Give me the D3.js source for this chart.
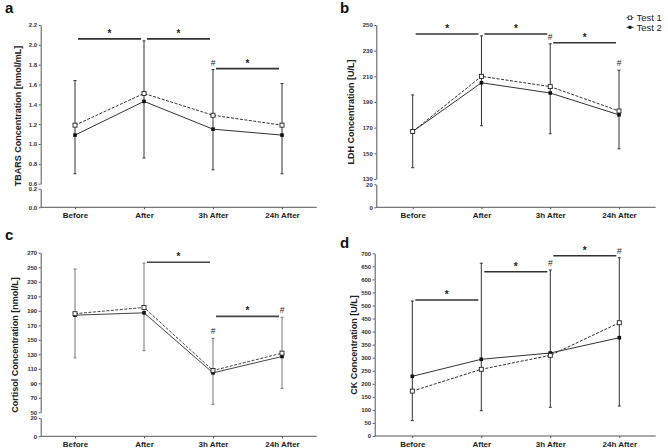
<!DOCTYPE html>
<html>
<head>
<meta charset="utf-8">
<script src="https://cdn.jsdelivr.net/npm/d3@7"></script>
<style>
  body { margin: 0; background: #fff; }
  svg { display: block; font-family: "Liberation Sans", Arial, sans-serif; }
</style>
</head>
<body>
<svg id="chart" width="668" height="448"></svg>
<script>
// ---------- DATA ----------
const categories = ["Before", "After", "3h After", "24h After"];
const seriesNames = ["Test 1", "Test 2"];

// a: TBARS
const tbarsTest1 = [1.19, 1.51, 1.29, 1.19];
const tbarsTest2 = [1.09, 1.43, 1.15, 1.09];
const tbarsErrTop = [1.64, 2.04, 1.75, 1.61];
const tbarsErrBottom = [0.70, 0.86, 0.74, 0.70];
const tbarsUpperTicks = [0.6, 0.8, 1.0, 1.2, 1.4, 1.6, 1.8, 2.0, 2.2];
const tbarsLowerTicks = [0.0, 0.2];
const tbarsSig = [[0, 1, 2.06], [1, 2, 2.06], [2, 3, 1.76]];
const tbarsHash = [2];

// b: LDH
const ldhTest1 = [167, 210, 202, 183];
const ldhTest2 = [167, 205, 197, 180];
const ldhErrTop = [195.5, 241.5, 235.3, 214.8];
const ldhErrBottom = [138.8, 171.5, 165.3, 153.5];
const ldhUpperTicks = [130, 150, 170, 190, 210, 230, 250];
const ldhLowerTicks = [0, 20];
const ldhSig = [[0, 1, 243], [1, 2, 243], [2, 3, 236.2]];
const ldhHash = [2, 3];

// c: Cortisol
const cortTest1 = [186, 194.6, 107.6, 131.6];
const cortTest2 = [184, 187.2, 104.4, 127];
const cortErrTop = [247.6, 255.7, 152, 181];
const cortErrBottom = [125, 135, 61, 83];
const cortUpperTicks = [50, 70, 90, 110, 130, 150, 170, 190, 210, 230, 250, 270];
const cortLowerTicks = [0, 20];
const cortSig = [[1, 2, 257], [2, 3, 182.3]];
const cortHash = [2, 3];

// d: CK
const ckTest1 = [172, 255.5, 309, 434];
const ckTest2 = [228.7, 294, 318, 376.6];
const ckErrTop = [517, 662, 636, 683];
const ckErrBottom = [59, 97, 110, 115];
const ckTicks = [0, 50, 100, 150, 200, 250, 300, 350, 400, 450, 500, 550, 600, 650, 700];
const ckSig = [[0, 1, 521], [1, 2, 629.5], [2, 3, 690.8]];
const ckHash = [2, 3];

// ---------- DRAW ----------
const svg = d3.select("#chart");
const FONT = "'Liberation Sans', Arial, sans-serif";

function drawPanel(p) {
  const g = svg.append("g");
  const x = d3.scalePoint().domain(categories).range(p.xRange);

  // piecewise y scale (broken axis)
  let y, upper, lower = null;
  upper = d3.scaleLinear().domain(p.upperDomain).range(p.upperRange);
  if (p.lowerDomain) {
    lower = d3.scaleLinear().domain(p.lowerDomain).range(p.lowerRange);
    y = d3.scaleLinear()
      .domain([p.lowerDomain[0], p.lowerDomain[1], p.upperDomain[0], p.upperDomain[1]])
      .range([p.lowerRange[0], p.lowerRange[1], p.upperRange[0], p.upperRange[1]]);
  } else {
    y = upper;
  }

  const fmt = p.fmt ? d3.format(p.fmt) : d3.format("d");
  function styleAxis(sel) {
    sel.select(".domain").attr("stroke", "#555").attr("stroke-width", 1);
    sel.selectAll(".tick line").attr("stroke", "#555");
    sel.selectAll(".tick text").attr("font-size", "6px").attr("font-weight", "bold")
      .attr("fill", "#333").attr("font-family", FONT);
  }
  const ua = g.append("g").attr("transform", `translate(${p.axisX},0)`)
    .call(d3.axisLeft(upper).tickValues(p.upperTicks).tickFormat(fmt).tickSize(2).tickSizeOuter(0).tickPadding(1.5));
  styleAxis(ua);
  if (lower) {
    const la = g.append("g").attr("transform", `translate(${p.axisX},0)`)
      .call(d3.axisLeft(lower).tickValues(p.lowerTicks).tickFormat(fmt).tickSize(2).tickSizeOuter(0).tickPadding(1.5));
    styleAxis(la);
  }

  // x axis
  const xa = g.append("g").attr("transform", `translate(0,${p.baseY})`)
    .call(d3.axisBottom(x).tickSize(2).tickSizeOuter(0).tickPadding(3));
  xa.select(".domain").remove();
  xa.selectAll(".tick line").attr("stroke", "#555");
  xa.selectAll(".tick text").attr("font-size", "8px").attr("font-weight", "bold")
    .attr("fill", "#222").attr("font-family", FONT);
  g.append("line").attr("x1", p.axisX).attr("x2", p.xEnd)
    .attr("y1", p.baseY).attr("y2", p.baseY).attr("stroke", "#555").attr("stroke-width", 1);

  // y title
  g.append("text")
    .attr("transform", `translate(${p.titleX},${p.titleY}) rotate(-90)`)
    .attr("text-anchor", "middle").attr("font-size", "9px").attr("font-weight", "bold")
    .attr("font-family", FONT).attr("fill", "#222").text(p.title);

  // panel letter
  g.append("text").attr("x", p.letterX).attr("y", p.letterY)
    .attr("font-size", "15px").attr("font-weight", "bold").attr("font-family", FONT)
    .attr("fill", "#111").text(p.letter);

  // error bars
  const ebColor = p.ebColor || "#333";
  categories.forEach((c, i) => {
    const cx = x(c);
    g.append("line").attr("x1", cx).attr("x2", cx)
      .attr("y1", y(p.errTop[i])).attr("y2", y(p.errBottom[i]))
      .attr("stroke", ebColor).attr("stroke-width", 1);
    [p.errTop[i], p.errBottom[i]].forEach(v => {
      g.append("line").attr("x1", cx - 1.5).attr("x2", cx + 1.5)
        .attr("y1", y(v)).attr("y2", y(v)).attr("stroke", ebColor).attr("stroke-width", 1);
    });
  });

  // lines
  const lineGen = d3.line().x((d, i) => x(categories[i])).y(d => y(d));
  const lc = p.lineColor || "#333";
  g.append("path").datum(p.t1).attr("d", lineGen).attr("fill", "none")
    .attr("stroke", lc).attr("stroke-width", 1).attr("stroke-dasharray", "3,1.5");
  g.append("path").datum(p.t2).attr("d", lineGen).attr("fill", "none")
    .attr("stroke", lc).attr("stroke-width", 1);

  // markers
  g.selectAll(".m2").data(p.t2).enter().append("rect")
    .attr("x", (d, i) => x(categories[i]) - 1.8).attr("y", d => y(d) - 1.8)
    .attr("width", 3.6).attr("height", 3.6).attr("fill", "#111");
  g.selectAll(".m1").data(p.t1).enter().append("rect")
    .attr("x", (d, i) => x(categories[i]) - 2).attr("y", d => y(d) - 2)
    .attr("width", 4).attr("height", 4).attr("fill", "#fff").attr("stroke", "#222").attr("stroke-width", 0.9);

  // significance bars
  const sc = p.sigColor || "#333";
  p.sig.forEach(([a, b, v]) => {
    const x1 = x(categories[a]) + 3, x2 = x(categories[b]) - 3;
    g.append("line").attr("x1", x1).attr("x2", x2).attr("y1", y(v)).attr("y2", y(v))
      .attr("stroke", sc).attr("stroke-width", 1.6);
    g.append("text").attr("x", (x1 + x2) / 2).attr("y", y(v) - 2)
      .attr("text-anchor", "middle").attr("font-size", "10px").attr("font-weight", "bold")
      .attr("font-family", FONT).attr("fill", "#222").text("*");
  });
  p.hash.forEach(i => {
    g.append("text").attr("x", x(categories[i])).attr("y", y(p.errTop[i]) - 4)
      .attr("text-anchor", "middle").attr("font-size", "8.5px")
      .attr("font-family", FONT).attr("fill", "#222").text("#");
  });
}

drawPanel({
  letter: "a", letterX: 5, letterY: 13,
  title: "TBARS Concentration [nmol/mL]", titleX: 21, titleY: 116,
  axisX: 40.7, xRange: [75, 282], xEnd: 316.7, baseY: 207.3,
  upperDomain: [0.6, 2.2], upperRange: [183.7, 25],
  lowerDomain: [0, 0.2], lowerRange: [207.3, 188.7],
  upperTicks: tbarsUpperTicks, lowerTicks: tbarsLowerTicks, fmt: ".1f",
  t1: tbarsTest1, t2: tbarsTest2, errTop: tbarsErrTop, errBottom: tbarsErrBottom,
  sig: tbarsSig, hash: tbarsHash
});

drawPanel({
  letter: "b", letterX: 340, letterY: 13,
  title: "LDH Concentration [U/L]", titleX: 353.5, titleY: 112,
  axisX: 376.3, xRange: [412.7, 619], xEnd: 655.7, baseY: 207.3,
  upperDomain: [130, 250], upperRange: [179, 25],
  lowerDomain: [0, 20], lowerRange: [207.3, 184.3],
  upperTicks: ldhUpperTicks, lowerTicks: ldhLowerTicks,
  t1: ldhTest1, t2: ldhTest2, errTop: ldhErrTop, errBottom: ldhErrBottom,
  sig: ldhSig, hash: ldhHash
});

drawPanel({
  letter: "c", letterX: 5, letterY: 240,
  title: "Cortisol Concentration [nmol/L]", titleX: 18, titleY: 345,
  axisX: 40.7, xRange: [75, 282], xEnd: 316.7, baseY: 436.3,
  upperDomain: [50, 270], upperRange: [412.3, 252.8],
  lowerDomain: [0, 20], lowerRange: [436.3, 418],
  upperTicks: cortUpperTicks, lowerTicks: cortLowerTicks,
  t1: cortTest1, t2: cortTest2, errTop: cortErrTop, errBottom: cortErrBottom,
  sig: cortSig, hash: cortHash, ebColor: "#777", lineColor: "#444", sigColor: "#444"
});

drawPanel({
  letter: "d", letterX: 340, letterY: 248,
  title: "CK Concentration [U/L]", titleX: 357, titleY: 345,
  axisX: 374.7, xRange: [412.3, 619.3], xEnd: 655.7, baseY: 436,
  upperDomain: [0, 700], upperRange: [436, 253.3],
  upperTicks: ckTicks,
  t1: ckTest1, t2: ckTest2, errTop: ckErrTop, errBottom: ckErrBottom,
  sig: ckSig, hash: ckHash
});

// legend
const legend = svg.append("g");
[0, 1].forEach(i => {
  const ly = 17.7 + i * 9.6;
  legend.append("line").attr("x1", 626.5).attr("x2", 633.5).attr("y1", ly).attr("y2", ly)
    .attr("stroke", "#333").attr("stroke-width", 1);
  if (i === 0) {
    legend.append("rect").attr("x", 628.3).attr("y", ly - 1.7).attr("width", 3.4).attr("height", 3.4)
      .attr("fill", "#fff").attr("stroke", "#222").attr("stroke-width", 0.8);
  } else {
    legend.append("rect").attr("x", 628.5).attr("y", ly - 1.5).attr("width", 3).attr("height", 3)
      .attr("fill", "#111");
  }
  legend.append("text").attr("x", 636.5).attr("y", ly + 3.3).attr("font-size", "9.5px")
    .attr("font-family", FONT).attr("fill", "#222").text(seriesNames[i]);
});
</script>
</body>
</html>
